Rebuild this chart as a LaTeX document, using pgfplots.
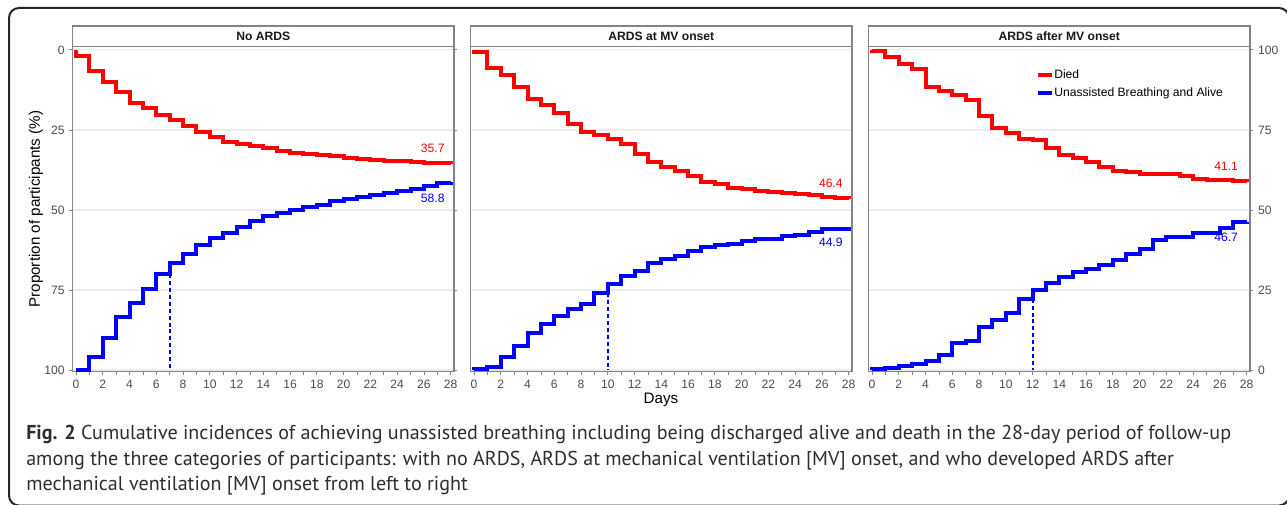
\documentclass[border=0pt]{standalone}
\usepackage{fontspec}
\setmainfont{Liberation Sans}
\newfontfamily\capfont{PT Sans}
\usepackage{pgfplots}
\usepackage{pgfplotstable}
\pgfplotsset{compat=1.18}

\definecolor{panelframe}{HTML}{858585}
\definecolor{gridgray}{HTML}{EBEBEB}
\definecolor{ticktext}{HTML}{4D4D4D}
\definecolor{diedred}{HTML}{FF0000}
\definecolor{aliveblue}{HTML}{0000FF}
\definecolor{captext}{HTML}{2E2E2E}

% day, cumulative incidence of death, cumulative incidence of unassisted breathing (%)
\pgfplotstableread{
day died alive
0 0.0 0.0
0 1.9 0.0
1 6.6 4.2
2 10.0 10.1
3 13.3 16.5
4 16.7 21.1
5 18.3 25.4
6 20.2 30.0
7 21.9 33.3
8 23.8 36.3
9 25.6 39.1
10 27.3 41.1
11 28.8 42.7
12 29.4 44.8
13 30.0 46.7
14 30.8 48.2
15 31.5 49.2
16 32.1 50.0
17 32.5 50.9
18 32.9 51.6
19 33.3 52.7
20 33.8 53.4
21 34.2 54.2
22 34.4 54.8
23 34.6 55.2
24 34.8 55.8
25 35.0 56.7
26 35.2 57.5
27 35.4 58.3
28 35.7 58.8
}\noards

\pgfplotstableread{
day died alive
0 0.0 0.0
0 0.7 0.2
1 5.7 1.0
2 7.8 4.2
3 11.5 7.6
4 15.2 11.5
5 17.2 14.4
6 19.8 17.0
7 23.1 19.0
8 25.5 20.5
9 26.6 24.0
10 27.7 26.9
11 29.4 29.4
12 32.6 30.8
13 34.9 33.3
14 36.7 34.7
15 37.7 35.7
16 39.3 37.2
17 41.3 38.3
18 41.9 39.0
19 43.2 39.4
20 43.6 40.4
21 44.0 40.8
22 44.3 41.0
23 44.6 41.9
24 44.9 42.3
25 45.2 43.2
26 45.8 44.0
27 46.2 44.2
28 46.4 44.6
}\ardsonset

\pgfplotstableread{
day died alive
0 0.0 0.0
0 0.2 0.2
1 2.3 0.6
2 4.4 1.3
3 6.0 1.8
4 11.7 2.8
5 12.7 4.6
6 14.0 8.5
7 15.6 9.1
8 20.5 13.4
9 24.4 15.7
10 26.0 17.9
11 27.7 22.3
12 28.3 25.1
13 30.5 27.3
14 32.8 29.0
15 33.9 30.6
16 34.9 31.7
17 36.6 32.7
18 37.7 34.4
19 38.2 36.3
20 38.8 37.8
21 38.9 40.6
22 38.9 41.7
23 39.3 41.7
24 40.4 42.7
25 40.6 42.7
26 40.6 44.4
27 41.0 46.1
28 41.1 46.3
}\ardsafter

% median day to unassisted breathing, and the curve level reached there
\pgfplotstableread{
day level
7 70
7 100
}\medA
\pgfplotstableread{
day level
10 76
10 100
}\medB
\pgfplotstableread{
day level
12 77.7
12 100
}\medC

\pgfplotsset{
  panel/.style={
    scale only axis, width=286pt, height=243.75pt, anchor=south west,
    xmin=-0.25, xmax=28.25, ymin=-1, ymax=100.5, y dir=reverse,
    xtick={0,2,...,28}, minor xtick={1,3,...,27},
    ytick={0,25,50,75,100},
    tick align=outside, major tick length=2.5pt, minor tick length=2.5pt,
    axis line style={panelframe, line width=0.8pt},
    every tick/.style={panelframe, line width=0.6pt},
    ymajorgrids, grid style={gridgray, line width=0.9pt},
    tick label style={font=\fontsize{9.1}{10}\selectfont, text=ticktext},
    /pgf/number format/assume math mode=true,
    clip=false,
  },
  notext/.style={yticklabels={}, ytick style={draw=none}},
}
\tikzset{
  diedline/.style={const plot, draw=diedred, line width=3pt, line join=miter},
  aliveline/.style={const plot, draw=aliveblue, line width=3pt, line join=miter},
  medline/.style={draw=aliveblue, line width=1.4pt, dash pattern=on 3pt off 2.2pt},
  lab/.style={anchor=east, font=\fontsize{9.1}{10}\selectfont},
}

\begin{document}
\begin{tikzpicture}
\path[use as bounding box] (0,0) rectangle (965.25pt,378.75pt);

\begin{axis}[panel, name=p1, at={(54.5pt,100pt)}]
\addplot[diedline] table[x=day, y=died] {\noards};
\addplot[aliveline] table[x=day, y expr=100-\thisrow{alive}] {\noards};
\addplot[medline, forget plot] table[x=day, y=level] {\medA};
\node[lab, text=diedred] at (axis cs:27.9,30.7) {35.7};
\node[lab, text=aliveblue] at (axis cs:27.9,46.3) {58.8};
\end{axis}

\begin{axis}[panel, notext, name=p2, at={(353pt,100pt)}]
\addplot[diedline] table[x=day, y=died] {\ardsonset};
\addplot[aliveline] table[x=day, y expr=100-\thisrow{alive}] {\ardsonset};
\addplot[medline, forget plot] table[x=day, y=level] {\medB};
\node[lab, text=diedred] at (axis cs:27.9,41.7) {46.4};
\node[lab, text=aliveblue] at (axis cs:27.9,60.2) {44.9};
\end{axis}

\begin{axis}[panel, notext, name=p3, at={(651.5pt,100pt)},
  legend style={at={(0.4388,0.885)}, anchor=west, draw=none, fill=none,
    font=\fontsize{9.1}{10}\selectfont, row sep=5pt, inner sep=0pt,
    nodes={inner sep=0pt, text height=6.6pt, text depth=1.9pt},
    /tikz/every even column/.append style={column sep=7.5pt}},
  legend cell align=left,
  legend image code/.code={\draw[#1, line width=3pt] (0pt,0pt) -- (10.5pt,0pt);}]
\addplot[diedline] table[x=day, y=died] {\ardsafter};
\addlegendentry{Died}
\addplot[aliveline] table[x=day, y expr=100-\thisrow{alive}] {\ardsafter};
\addlegendentry{Unassisted Breathing and Alive}
\addplot[medline, forget plot] table[x=day, y=level] {\medC};
\node[lab, text=diedred] at (axis cs:27.7,36.25) {41.1};
\node[lab, text=aliveblue] at (axis cs:27.7,58.6) {46.7};
\end{axis}

\begin{axis}[scale only axis, width=286pt, height=243.75pt, anchor=south west,
  at={(651.5pt,100pt)}, xmin=-0.25, xmax=28.25, ymin=-0.5, ymax=101,
  axis x line=none, axis y line*=right, ytick={0,25,50,75,100},
  tick align=outside, major tick length=2.5pt,
  axis line style={panelframe, line width=0.8pt},
  every tick/.style={panelframe, line width=0.6pt},
  tick label style={font=\fontsize{9.1}{10}\selectfont, text=ticktext},
  /pgf/number format/assume math mode=true]
\end{axis}

\foreach \n/\t in {p1/No ARDS, p2/ARDS at MV onset, p3/ARDS after MV onset} {
  \draw[panelframe, line width=0.8pt, fill=white] (\n.north west) rectangle ([yshift=15.5pt]\n.north east);
  \node[font=\bfseries\fontsize{9.1}{10}\selectfont, text=black!90] at ([yshift=7.75pt]\n.north) {\t};
}

\node[rotate=90, font=\fontsize{11.4}{12}\selectfont] at (27pt,221.85pt) {Proportion of participants (\%)};
\node[font=\fontsize{11.4}{12}\selectfont] at (495.75pt,78.5pt) {Days};

\begin{scope}[every node/.style={anchor=base west, inner sep=0pt, text=captext, font=\capfont\fontsize{15.05}{17}\selectfont}]
\node at (19.5pt,48.75pt) {\textbf{Fig. 2} Cumulative incidences of achieving unassisted breathing including being discharged alive and death in the 28-day period of follow-up};
\node at (19.5pt,29.75pt) {among the three categories of participants: with no ARDS, ARDS at mechanical ventilation [MV] onset, and who developed ARDS after};
\node at (19.5pt,10.8pt) {mechanical ventilation [MV] onset from left to right};
\end{scope}

\draw[line width=1.5pt, black!85, rounded corners=7.5pt] (6.75pt,372.75pt) rectangle (966.75pt,-0.4pt);
\end{tikzpicture}
\end{document}
